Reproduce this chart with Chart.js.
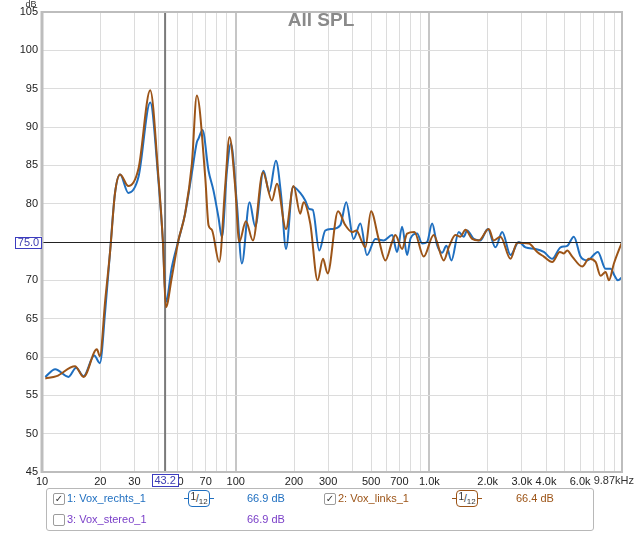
<!DOCTYPE html>
<html>
<head>
<meta charset="utf-8">
<script src="https://cdn.jsdelivr.net/npm/chart.js@4.4.1/dist/chart.umd.min.js"></script>
<style>
  html, body { margin: 0; padding: 0; background: #fff; }
  #wrap { position: relative; width: 640px; height: 533px; font-family: "Liberation Sans", Arial, sans-serif; }
  #chart { position: absolute; left: 0; top: 0; }
  #legend { position: absolute; left: 46px; top: 488px; width: 548px; height: 43px; border: 1px solid #b8b8b8; border-radius: 3px; box-sizing: border-box; }
  .it { position: absolute; font-size: 11px; line-height: 13px; white-space: nowrap; }
  .cb { position: absolute; width: 10px; height: 10px; border: 1px solid #9c9c9c; border-radius: 2px; background: #fff;
        font: 10px "DejaVu Sans", sans-serif; line-height: 10px; text-align: center; color: #333; }
  .sm { position: absolute; width: 30px; height: 18px; }
  .sm .ln { position: absolute; left: 0; width: 30px; top: 8px; height: 0; border-top: 1.5px solid; }
  .sm .bx { position: absolute; left: 4px; top: 0; width: 20px; height: 15px; border-width: 1.5px; border-style: solid; border-radius: 4px; background: #fff;
            font-size: 10px; line-height: 15px; text-align: center; color: #333; white-space: nowrap; }
  .sm .n { position: relative; top: -2px; font-size: 10px; }
  .sm .d { position: relative; top: 2px; font-size: 8px; }
  .blue { color: #1f6fc0; }
  .brown { color: #9c5417; }
  .purple { color: #7a3fc8; }
</style>
</head>
<body>
<div id="wrap">
  <canvas id="chart" width="640" height="533"></canvas>
  <div class="cb" style="left:53px;top:493px">✓</div>
  <div class="it blue" style="left:67px;top:492px">1: Vox_rechts_1</div>
  <div class="sm" style="left:184px;top:490px;color:#1f6fc0"><div class="ln"></div><div class="bx" style="border-color:#1f6fc0"><span class="n">1</span>/<span class="d">12</span></div></div>
  <div class="it blue" style="left:247px;top:492px">66.9 dB</div>
  <div class="cb" style="left:324px;top:493px">✓</div>
  <div class="it brown" style="left:338px;top:492px">2: Vox_links_1</div>
  <div class="sm" style="left:452px;top:490px;color:#9c5417"><div class="ln"></div><div class="bx" style="border-color:#9c5417"><span class="n">1</span>/<span class="d">12</span></div></div>
  <div class="it brown" style="left:516px;top:492px">66.4 dB</div>
  <div class="cb" style="left:53px;top:514px"></div>
  <div class="it purple" style="left:67px;top:513px">3: Vox_stereo_1</div>
  <div class="it purple" style="left:247px;top:513px">66.9 dB</div>
  <div id="legend"></div>
</div>
<script>
// Vox_rechts_1 (blue)
var rechtsHz = [10.4, 11.7, 13.7, 15.0, 16.4, 18.6, 19.9, 21.2, 22.5, 23.8,
  25.3, 27.9, 31.5, 36.2, 39.9, 42.1, 43.6, 46.8, 50.6, 54.8,
  59.4, 63.0, 64.3, 67.4, 72.4, 76.8, 81.5, 84.9, 90.1, 94.5,
  101.4, 107.6, 117.9, 126.1, 139.2, 149, 161.3, 171.9, 181.8, 197.5,
  215.4, 228.6, 240, 250, 270, 290, 314, 347, 372, 406,
  440, 476, 526, 581, 642, 681, 723, 767, 800, 864,
  917, 973, 1033, 1096, 1163, 1224, 1299, 1417, 1504, 1566,
  1694, 1835, 2001, 2193, 2376, 2622, 2895, 3134, 3531, 3896,
  4307, 4753, 5148, 5568, 6031, 6531, 7410, 8121, 8616, 9040,
  9400, 9870];
var rechtsDb = [57.4, 58.4, 57.4, 58.6, 57.5, 60.2, 59.2, 66.0, 74.0, 81.3,
  83.8, 81.4, 83.5, 93.2, 83.0, 75.0, 67.2, 71.7, 75.2, 78.7,
  84.0, 88.0, 88.5, 89.6, 84.3, 81.7, 78.2, 75.6, 84.3, 87.8,
  80.0, 72.2, 80.2, 77.0, 84.3, 81.5, 85.6, 80.9, 74.1, 82.2,
  81.4, 80.4, 79.3, 79.2, 73.9, 76.5, 76.7, 77.2, 80.2, 75.4,
  77.4, 73.3, 75.4, 75.2, 75.9, 73.7, 77.0, 73.3, 75.5, 76.1,
  74.8, 75.0, 77.4, 74.6, 73.6, 74.5, 72.6, 76.3, 75.7, 76.5,
  75.4, 75.2, 76.7, 74.3, 76.3, 73.3, 75.0, 74.3, 74.1, 73.7,
  72.8, 74.3, 74.5, 75.7, 73.1, 72.6, 73.7, 71.5, 71.5, 70.6,
  70.0, 70.4];

// Vox_links_1 (brown)
var linksHz = [10.4, 11.9, 14.8, 16.4, 19.2, 19.9, 21.2, 22.5, 23.8, 25.3,
  27.9, 31.5, 36.2, 39.9, 42.1, 43.6, 46.8, 50.6, 54.8, 59.4,
  63.0, 69.6, 72.4, 75.3, 82.2, 88.2, 92.9, 99.4, 104.3, 112.9,
  122.7, 138.2, 153.8, 163.3, 181.8, 198.9, 215.4, 224, 242.7, 264.7,
  282.3, 298.2, 337.5, 368, 398.6, 419.6, 449, 467, 499.6, 547,
  592.5, 641.6, 667.3, 722.8, 767.1, 836.6, 934.4, 1052, 1186, 1258,
  1363, 1446, 1535, 1663, 1798, 2025, 2149, 2328, 2622, 2840,
  3261, 3603, 3896, 4307, 4714, 4945, 5148, 5464, 6153, 6657,
  7210, 7651, 8121, 8445, 8967, 9870];
var linksDb = [57.2, 57.5, 58.8, 57.4, 61.0, 60.1, 67.4, 73.9, 81.3, 83.8,
  82.3, 84.6, 94.8, 83.5, 75.0, 66.5, 70.4, 75.2, 78.7, 85.2,
  94.1, 83.5, 77.2, 76.6, 72.4, 82.2, 88.7, 82.2, 75.0, 77.7,
  75.2, 84.1, 80.4, 82.6, 76.7, 82.3, 78.7, 80.2, 77.4, 70.0,
  72.8, 70.9, 79.0, 77.2, 76.3, 76.5, 75.0, 74.3, 79.0, 75.4,
  72.6, 75.0, 75.9, 74.1, 76.1, 76.3, 73.1, 75.9, 72.6, 74.3,
  75.9, 75.7, 76.6, 75.4, 75.2, 76.7, 75.2, 75.7, 72.8, 74.9,
  74.8, 73.7, 73.1, 72.4, 73.7, 73.5, 73.9, 73.1, 71.8, 72.8,
  72.4, 70.6, 71.1, 70.0, 72.2, 75.0];

// axis ticks
var xGrid = [10, 20, 30, 40, 50, 60, 70, 80, 90,
  100, 200, 300, 400, 500, 600, 700, 800, 900,
  1000, 2000, 3000, 4000, 5000, 6000, 7000, 8000, 9000, 9870];
var xLabels = { 10: '10', 20: '20', 30: '30', 50: '50', 70: '70', 100: '100', 200: '200', 300: '300',
  500: '500', 700: '700', 1000: '1.0k', 2000: '2.0k', 3000: '3.0k', 4000: '4.0k', 6000: '6.0k' };
var xEndLabel = '9.87kHz';
var yMin = 45, yMax = 105, yStep = 5;

var cursorHz = 43.2;
var cursorDb = 75.0;
var titleText = 'All SPL';

function pts(xs, ys) {
  return xs.map(function(v, i) { return { x: v, y: ys[i] }; });
}

var FONT = '"Liberation Sans", Arial, sans-serif';

// cursor lines, title, boxes
var overlay = {
  id: 'overlay',
  beforeDatasetsDraw: function(chart) {
    var ctx = chart.ctx, a = chart.chartArea;
    var cx = chart.scales.x.getPixelForValue(cursorHz);
    ctx.save();
    ctx.fillStyle = '#8a8a8a';
    ctx.font = 'bold 19px ' + FONT;
    ctx.textAlign = 'center';
    ctx.textBaseline = 'middle';
    ctx.fillText(titleText, 321, 21);
    ctx.strokeStyle = '#7a7a7a';
    ctx.lineWidth = 2;
    ctx.beginPath();
    ctx.moveTo(cx, a.top);
    ctx.lineTo(cx, a.bottom);
    ctx.stroke();
    ctx.restore();
  },
  afterDatasetsDraw: function(chart) {
    var ctx = chart.ctx, a = chart.chartArea;
    var cy = Math.round(chart.scales.y.getPixelForValue(cursorDb)) + 0.5;
    ctx.save();
    ctx.strokeStyle = '#222';
    ctx.lineWidth = 1;
    ctx.beginPath();
    ctx.moveTo(a.left, cy);
    ctx.lineTo(a.right, cy);
    ctx.stroke();
    ctx.restore();
  },
  afterDraw: function(chart) {
    var ctx = chart.ctx, a = chart.chartArea;
    var cx = chart.scales.x.getPixelForValue(cursorHz);
    var cy = chart.scales.y.getPixelForValue(cursorDb);
    ctx.save();
    // frame
    ctx.strokeStyle = '#bdbdbd';
    ctx.lineWidth = 2;
    ctx.strokeRect(a.left, a.top, a.right - a.left, a.bottom - a.top);
    ctx.lineWidth = 3;
    ctx.beginPath();
    ctx.moveTo(a.left, a.top - 1);
    ctx.lineTo(a.left, a.bottom + 1);
    ctx.stroke();
    // cursor value boxes
    ctx.font = '11px ' + FONT;
    ctx.textBaseline = 'middle';
    ctx.textAlign = 'center';
    ctx.lineWidth = 1;
    ctx.fillStyle = '#fff';
    ctx.fillRect(15, cy - 5.5, 27, 11);
    ctx.strokeStyle = '#3c3cc0';
    ctx.strokeRect(15.5, Math.round(cy - 5.5) + 0.5, 26, 11);
    ctx.fillStyle = '#3c3cb0';
    ctx.fillText(cursorDb.toFixed(1), 28.5, cy + 0.5);
    ctx.fillStyle = '#fff';
    ctx.fillRect(cx - 13, 474, 26, 13);
    ctx.strokeRect(Math.round(cx - 13) + 0.5, 474.5, 26, 12);
    ctx.fillStyle = '#3c3cb0';
    ctx.fillText(String(cursorHz), cx, 481);
    // unit labels
    ctx.fillStyle = '#333';
    ctx.textAlign = 'right';
    ctx.fillText(xEndLabel, 634, 481);
    ctx.font = '9px ' + FONT;
    ctx.textAlign = 'center';
    ctx.fillText('dB', 31, 5);
    ctx.restore();
  }
};

new Chart(document.getElementById('chart'), {
  type: 'line',
  data: {
    datasets: [
      { label: '1: Vox_rechts_1', data: pts(rechtsHz, rechtsDb), borderColor: '#1f6fc0', borderWidth: 2,
        pointRadius: 0, cubicInterpolationMode: 'monotone', order: 2 },
      { label: '2: Vox_links_1', data: pts(linksHz, linksDb), borderColor: '#9c5417', borderWidth: 2,
        pointRadius: 0, cubicInterpolationMode: 'monotone', order: 1 }
    ]
  },
  options: {
    responsive: false,
    animation: false,
    devicePixelRatio: 1,
    layout: { padding: { top: 12, right: 18, bottom: 45, left: 0 } },
    plugins: { legend: { display: false }, tooltip: { enabled: false }, title: { display: false } },
    scales: {
      x: {
        type: 'logarithmic',
        min: 10,
        max: 9870,
        afterBuildTicks: function(scale) {
          scale.ticks = xGrid.map(function(v) { return { value: v }; });
        },
        afterFit: function(scale) { scale.height = 16; },
        grid: {
          drawTicks: false,
          color: function(c) { return (c.tick && (c.tick.value === 100 || c.tick.value === 1000)) ? '#c6c6c6' : '#dcdcdc'; },
          lineWidth: function(c) { return (c.tick && (c.tick.value === 100 || c.tick.value === 1000)) ? 2 : 1; }
        },
        border: { display: false },
        ticks: {
          autoSkip: false,
          maxRotation: 0,
          padding: 3,
          color: '#222',
          font: { family: FONT, size: 11 },
          callback: function(v, i, ticks) { return xLabels[ticks[i].value] || ''; }
        }
      },
      y: {
        min: yMin,
        max: yMax,
        afterFit: function(scale) { scale.width = 42; },
        grid: { drawTicks: false, color: '#dcdcdc', lineWidth: 1 },
        border: { display: false },
        ticks: {
          stepSize: yStep,
          padding: 4,
          color: '#222',
          font: { family: FONT, size: 11 }
        }
      }
    }
  },
  plugins: [overlay]
});
</script>
</body>
</html>
